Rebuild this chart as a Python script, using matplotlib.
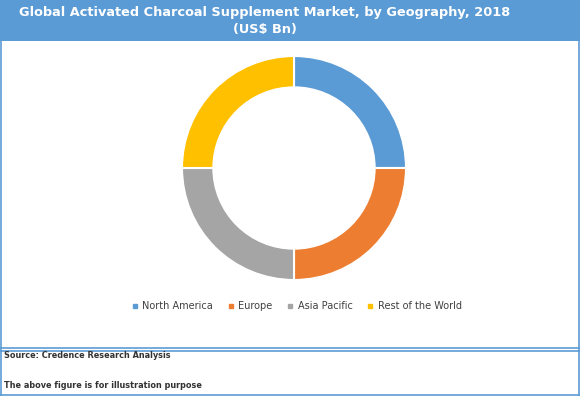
import matplotlib
matplotlib.use('Agg')
import matplotlib.pyplot as plt
from matplotlib.lines import Line2D
from matplotlib.patches import Rectangle

# data
regions = ['North America', 'Europe', 'Asia Pacific', 'Rest of the World']
shares = [25, 25, 25, 25]
colors = ['#5B9BD5', '#ED7D31', '#A5A5A5', '#FFC000']
title = 'Global Activated Charcoal Supplement Market, by Geography, 2018\n(US$ Bn)'
footer_lines = ['Source: Credence Research Analysis', 'The above figure is for illustration purpose']

W, H = 580, 396
fig = plt.figure(figsize=(W / 100, H / 100), dpi=100)

def fx(px):
    return px / W

def fy(py):
    return 1 - py / H

# title bar
fig.add_artist(Rectangle((0, fy(41)), 1, 41 / H, transform=fig.transFigure,
                         facecolor='#5B9BD5', edgecolor='none'))
fig.text(fx(265), fy(21), title, ha='center', va='center', color='white',
         fontsize=9.3, fontweight='bold', linespacing=1.4, multialignment='center')

# borders
bc = '#5B9BD5'
for xs, ys in [([0.5, 0.5], [41, 395]), ([578.5, 578.5], [41, 395]),
               ([0, 580], [348, 348]), ([0, 580], [350.5, 350.5]),
               ([0, 580], [394.5, 394.5])]:
    fig.add_artist(Line2D([fx(x) for x in xs], [fy(y) for y in ys],
                          transform=fig.transFigure, color=bc, lw=1.2))

# donut
cx, cy, r = 294, 168, 112
ax = fig.add_axes([fx(cx - r), fy(cy + r), 2 * r / W, 2 * r / H])
ax.pie(shares, colors=colors, startangle=90, counterclock=False, radius=1,
       wedgeprops=dict(width=0.28, edgecolor='white', linewidth=1.5))
ax.set_xlim(-1, 1)
ax.set_ylim(-1, 1)
ax.set_aspect('equal')
ax.axis('off')

# legend
handles = [Line2D([], [], marker='s', linestyle='none', markersize=3.5,
                  markerfacecolor=c, markeredgecolor=c) for c in colors]
fig.legend(handles, regions, loc='center', bbox_to_anchor=(fx(297), fy(306)),
           ncol=4, frameon=False, fontsize=7, handlelength=0.5,
           handletextpad=0.5, columnspacing=1.6, labelcolor='#404040')

# footer
fig.text(fx(4), fy(356), footer_lines[0], ha='left', va='center',
         fontsize=5.9, fontweight='bold', color='#333333')
fig.text(fx(4), fy(386), footer_lines[1], ha='left', va='center',
         fontsize=5.9, fontweight='bold', color='#333333')

fig.savefig('out.png', dpi=100)
